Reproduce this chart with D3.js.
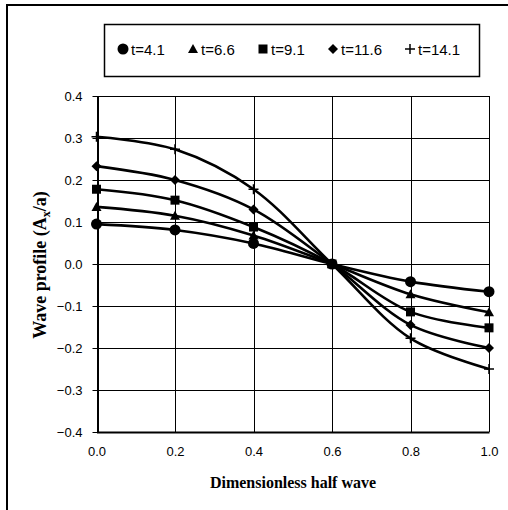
<!DOCTYPE html>
<html><head><meta charset="utf-8">
<script src="https://cdn.jsdelivr.net/npm/d3@7"></script>
<style>body{margin:0;background:#fff}svg{display:block}</style>
</head><body>
<svg id="c" width="508" height="510"></svg>
<script>
const xValues = [0.0, 0.2, 0.4, 0.6, 0.8, 1.0];
const seriesNames = ["t=4.1", "t=6.6", "t=9.1", "t=11.6", "t=14.1"];
const seriesSymbols = ["circle", "triangle", "square", "diamond", "plus"];
const s41  = [0.095, 0.081, 0.049, 0.0, -0.042, -0.066];
const s66  = [0.136, 0.115, 0.068, 0.0, -0.072, -0.115];
const s91  = [0.178, 0.152, 0.088, 0.0, -0.114, -0.152];
const s116 = [0.233, 0.200, 0.130, 0.0, -0.145, -0.200];
const s141 = [0.303, 0.273, 0.178, 0.0, -0.177, -0.250];
const seriesValues = [s41, s66, s91, s116, s141];
const xTicks = [0.0, 0.2, 0.4, 0.6, 0.8, 1.0];
const yTicks = [-0.4, -0.3, -0.2, -0.1, 0.0, 0.1, 0.2, 0.3, 0.4];

const svg = d3.select("#c");
// outer frame
svg.append("rect").attr("x", 7).attr("y", 5).attr("width", 520).attr("height", 520)
  .attr("fill", "none").attr("stroke", "#000").attr("stroke-width", 2);

const L = 96.5, R = 489, T = 96, B = 432;
const x = d3.scaleLinear().domain([0, 1]).range([L, R]);
const y = d3.scaleLinear().domain([-0.4, 0.4]).range([B, T]);

const g = svg.append("g");
// gridlines
g.selectAll(".gy").data(yTicks).join("line")
  .attr("x1", L).attr("x2", R).attr("y1", d => Math.round(y(d)) + 0.5).attr("y2", d => Math.round(y(d)) + 0.5)
  .attr("stroke", "#000").attr("stroke-width", 1);
g.selectAll(".gx").data(xTicks).join("line")
  .attr("y1", T).attr("y2", B).attr("x1", d => Math.round(x(d)) + 0.5).attr("x2", d => Math.round(x(d)) + 0.5)
  .attr("stroke", "#000").attr("stroke-width", 1);

// axes
const yAxis = d3.axisLeft(y).tickValues(yTicks).tickFormat(d3.format(".1f")).tickSizeInner(5).tickSizeOuter(0).tickPadding(8);
const ya = svg.append("g").attr("transform", `translate(${Math.round(L)+0.5},0)`).call(yAxis);
const xAxis = d3.axisBottom(x).tickValues(xTicks).tickFormat(d3.format(".1f")).tickSize(0).tickPadding(15);
const xa = svg.append("g").attr("transform", `translate(0,${B})`).call(xAxis);
[ya, xa].forEach(a => {
  a.select(".domain").attr("stroke", "#000").attr("stroke-width", 2);
  a.selectAll("text").attr("font-family", "Liberation Sans, Arial, sans-serif").attr("font-size", 13).attr("fill", "#000");
  a.selectAll("line").attr("stroke", "#000");
});
ya.selectAll("text").attr("dx", -2);

// axis titles
svg.append("text").attr("x", 293).attr("y", 488).attr("text-anchor", "middle")
  .attr("font-family", "Liberation Serif, Times New Roman, serif").attr("font-weight", "bold").attr("font-size", 16)
  .text("Dimensionless half wave");
const yt = svg.append("text").attr("transform", "translate(46,265) rotate(-90)").attr("text-anchor", "middle")
  .attr("font-family", "Liberation Serif, Times New Roman, serif").attr("font-weight", "bold").attr("font-size", 18);
yt.append("tspan").text("Wave profile (A");
yt.append("tspan").attr("font-size", 12).attr("dy", 4).text("x");
yt.append("tspan").attr("dy", -4).text("/a)");

// series lines
const line = d3.line().x((d, i) => x(xValues[i])).y(d => y(d)).curve(d3.curveCatmullRom.alpha(0.5));
seriesValues.forEach(vals => {
  svg.append("path").attr("d", line(vals)).attr("fill", "none").attr("stroke", "#000").attr("stroke-width", 2.6);
});

function marker(sel, type) {
  if (type === "plus") {
    sel.append("path").attr("d", "M-5,0H5M0,-5V5").attr("stroke", "#000").attr("stroke-width", 1.5).attr("fill", "none");
  } else if (type === "diamond") {
    sel.append("path").attr("d", "M0,-5L5,0L0,5L-5,0Z").attr("fill", "#000");
  } else if (type === "circle") {
    sel.append("circle").attr("r", 5.5).attr("fill", "#000");
  } else if (type === "square") {
    sel.append("rect").attr("x", -4.5).attr("y", -4.5).attr("width", 9).attr("height", 9).attr("fill", "#000");
  } else {
    sel.append("path").attr("d", "M0,-5L5,4L-5,4Z").attr("fill", "#000");
  }
}
seriesValues.forEach((vals, si) => {
  vals.forEach((v, i) => {
    const m = svg.append("g").attr("transform", `translate(${x(xValues[i])},${y(v)})`);
    marker(m, seriesSymbols[si]);
  });
});

// legend
svg.append("rect").attr("x", 104.5).attr("y", 24.5).attr("width", 375).attr("height", 52)
  .attr("fill", "#fff").attr("stroke", "#000").attr("stroke-width", 1.5);
const legX = [123, 193, 263, 333, 410];
seriesNames.forEach((nm, i) => {
  const m = svg.append("g").attr("transform", `translate(${legX[i]},49)`);
  marker(m, seriesSymbols[i]);
  svg.append("text").attr("x", legX[i] + 8).attr("y", 54.5)
    .attr("font-family", "Liberation Sans, Arial, sans-serif").attr("font-size", 15).text(nm);
});
</script>
</body></html>
